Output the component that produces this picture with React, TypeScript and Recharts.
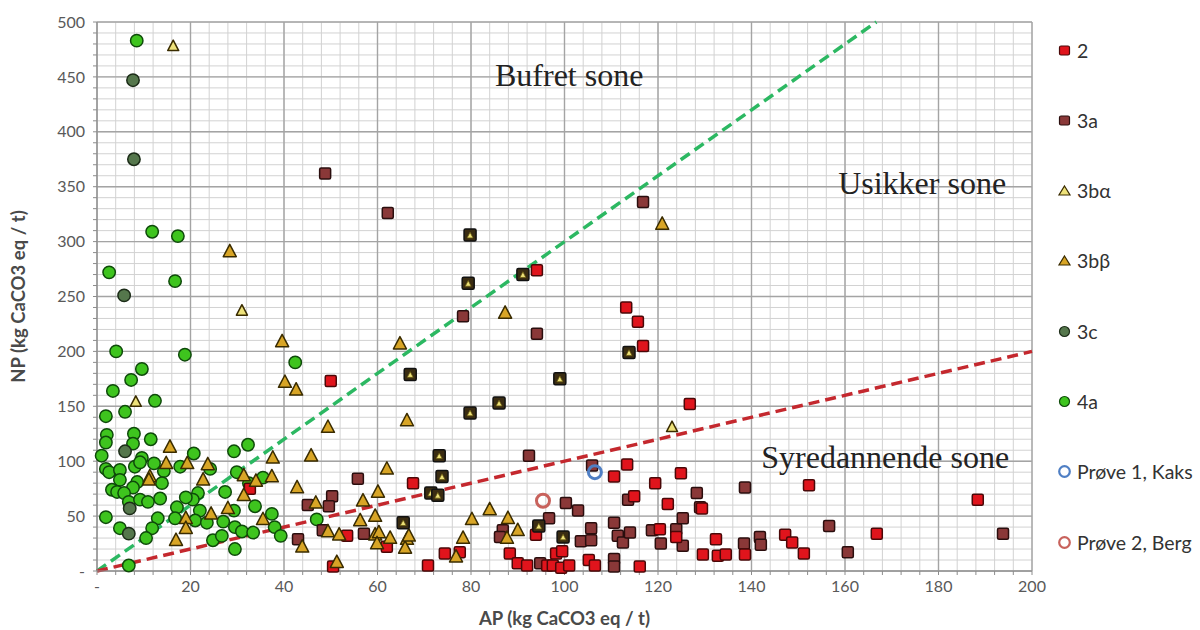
import React from "react";
import {
  ScatterChart,
  Scatter,
  XAxis,
  YAxis,
  CartesianGrid,
  ReferenceLine,
  ReferenceDot,
} from "recharts";

type Pt = [number, number]; // [AP, NP]

// --- data ---
const SERIES_2: Pt[] = [
  [50, 173], [67.6, 80], [53.5, 32], [62, 22], [50.5, 4], [74.4, 16], [77.6, 17], [70.8, 5],
  [88.3, 16], [90, 7], [92, 5], [94.1, 274], [113.2, 240], [115.7, 227], [116.8, 205],
  [126.8, 152], [110.6, 86], [113.4, 97], [119.4, 80], [124.9, 89], [129.4, 57], [114.9, 68],
  [122.1, 61], [93.9, 33], [120.4, 38], [123.9, 31], [132.4, 29], [138.6, 15], [129.6, 15],
  [132.8, 14], [134.5, 15], [96.3, 5], [97.5, 5], [98.2, 16], [99.5, 18], [99.3, 3], [101, 5],
  [105.2, 10], [106.5, 5], [116.1, 4], [152.3, 78], [188.4, 65], [147.2, 33], [148.7, 26],
  [151.2, 16], [166.8, 34], [32.7, 75],
];

const SERIES_3A: Pt[] = [
  [48.8, 362], [62.2, 326], [78.3, 232], [116.8, 336], [94.1, 216], [92.4, 105], [55.8, 84],
  [45.1, 60], [50.3, 68], [49.6, 59], [48.3, 37], [57.1, 34], [43, 29], [86.8, 37], [86.2, 31],
  [105.9, 96], [128.3, 71], [138.6, 76], [100.3, 62], [102.9, 55], [113.6, 65], [96.7, 48],
  [105.7, 39], [103.5, 27], [105.7, 28], [110.6, 44], [111.4, 32], [112.5, 26], [114, 35],
  [118.7, 37], [120.6, 25], [123.9, 38], [125.3, 48], [125.3, 23], [138.4, 25], [94.8, 7],
  [110.6, 11], [110.6, 4], [156.6, 41], [141.8, 31], [142, 24], [160.6, 17], [193.8, 34],
  [129, 58],
];

const SERIES_3B_ALPHA: Pt[] = [[16.3, 478], [123, 131], [31, 237], [8.3, 154]];

// 3bα points drawn inside a dark box
const SERIES_3B_ALPHA_BOXED: Pt[] = [
  [79.8, 306], [91.1, 270], [79.4, 262], [67, 179], [79.8, 144], [86, 153], [73.2, 105],
  [73.8, 86], [71.4, 71], [72.9, 69], [65.5, 44], [113.8, 199], [99, 175], [94.5, 41],
  [99.7, 31],
];

const SERIES_3B_BETA: Pt[] = [
  [28.4, 291], [39.6, 209], [40.2, 172], [15.6, 113], [37.6, 103], [14.8, 98], [19.3, 98],
  [23.7, 97], [31.4, 87], [34, 82], [37.4, 86], [31.4, 69], [11.3, 86], [11.1, 83], [22.7, 83],
  [24.4, 52], [28, 57], [35.5, 47], [19, 48], [19, 39], [16.9, 28], [64.8, 207], [42.6, 165],
  [49.4, 131], [66.3, 137], [87.3, 235], [45.8, 105], [62, 93], [42.8, 76], [60.1, 72],
  [46.8, 62], [56.9, 64], [56.3, 46], [59.5, 50], [84, 56], [80.2, 47], [87.9, 48], [90, 37],
  [49.4, 36], [51.8, 33], [59.5, 33], [60.3, 35], [59.9, 25], [62.7, 30], [66.3, 29],
  [65.9, 21], [66.7, 32], [43.9, 22], [51.3, 8], [78.3, 30], [76.8, 13], [87.7, 30],
  [120.9, 316],
];

const SERIES_3C: Pt[] = [[7.7, 447], [7.9, 375], [5.8, 251], [6, 109], [7, 57], [6.8, 34]];

const SERIES_4A: Pt[] = [
  [8.5, 483], [11.8, 309], [17.3, 305], [2.6, 272], [16.7, 264], [4.1, 200], [18.8, 197],
  [9.6, 184], [7.3, 174], [3.4, 164], [12.4, 155], [6, 145], [1.9, 141], [2.1, 124], [7.9, 125],
  [1.9, 117], [7.7, 116], [11.5, 120], [1, 105], [32.3, 115], [29.3, 109], [20.7, 107],
  [9.6, 103], [1.9, 93], [2.6, 90], [4.9, 92], [8.1, 95], [9.2, 99], [12.2, 98], [14.3, 91],
  [17.8, 95], [24.2, 93], [29.9, 90], [32.5, 80], [35.5, 85], [33.8, 59], [4.9, 83], [8.6, 81],
  [13.9, 80], [7.7, 76], [27.4, 72], [21.6, 71], [20.5, 65], [19, 67], [3.2, 74], [4.3, 72],
  [5.8, 71], [6.8, 63], [9.2, 65], [10.9, 63], [13.5, 66], [17.1, 58], [22, 55], [29.3, 55],
  [37.4, 52], [1.9, 49], [13, 48], [16.7, 48], [21, 46], [23.5, 44], [27, 45], [29.5, 40],
  [38, 40], [4.9, 39], [11.8, 39], [31, 36], [33.4, 35], [10.5, 30], [24.8, 28], [26.7, 32],
  [39.3, 32], [29.5, 20], [6.8, 5], [42.4, 190], [47, 47],
];

const PROVE_1: Pt[] = [[106.5, 90]];
const PROVE_2: Pt[] = [[95.4, 64]];

// zone boundaries NP/AP = 3 and NP/AP = 1
const BUFFER_LINE: Pt[] = [[0, 0], [166.7, 500]];
const ACID_LINE: Pt[] = [[0, 0], [200, 200]];

const X_TICKS = Array.from({ length: 51 }, (_, i) => i * 4);
const Y_TICKS = Array.from({ length: 51 }, (_, i) => i * 10);
const X_MAJOR = [0, 20, 40, 60, 80, 100, 120, 140, 160, 180, 200];
const Y_MAJOR = [0, 50, 100, 150, 200, 250, 300, 350, 400, 450, 500];

const toData = (pts: Pt[]) => pts.map(([ap, np]) => ({ ap, np }));

const C = {
  red: "#e0141c",
  redEdge: "#4a0808",
  brown: "#8a3838",
  brownEdge: "#2a0e0e",
  pale: "#eee27a",
  gold: "#d8a526",
  triEdge: "#3a2c00",
  dark: "#55774c",
  darkEdge: "#1c2c18",
  green: "#3ec41e",
  greenEdge: "#0e4a0a",
  blue: "#4f7fc4",
  pink: "#c8625c",
};

const square = (fill: string, stroke: string, s = 11) => (p: any) => (
  <rect x={p.cx - s / 2} y={p.cy - s / 2} width={s} height={s} rx={1.5} fill={fill} stroke={stroke} strokeWidth={1.5} />
);

const triPoints = (cx: number, cy: number, s: number) =>
  `${cx},${cy - s * 0.55} ${cx + s / 2},${cy + s * 0.4} ${cx - s / 2},${cy + s * 0.4}`;

const triangle = (fill: string, stroke: string, s = 13) => (p: any) => (
  <polygon points={triPoints(p.cx, p.cy, s)} fill={fill} stroke={stroke} strokeWidth={1.5} strokeLinejoin="round" />
);

const circle = (fill: string, stroke: string, r = 6.2) => (p: any) => (
  <circle cx={p.cx} cy={p.cy} r={r} fill={fill} stroke={stroke} strokeWidth={1.5} />
);

const ring = (stroke: string) => (p: any) => (
  <circle cx={p.cx} cy={p.cy} r={6.5} fill="none" stroke={stroke} strokeWidth={3} />
);

const boxed = (p: any) => (
  <g>
    <rect x={p.cx - 6} y={p.cy - 6} width={12} height={12} rx={1.5} fill="#3a2c12" stroke="#111" strokeWidth={1.5} />
    <polygon points={triPoints(p.cx, p.cy + 0.5, 6)} fill={C.pale} stroke="#6a5a10" strokeWidth={0.8} />
  </g>
);

const LEGEND = [
  { name: "2", icon: "square", fill: C.red, stroke: C.redEdge },
  { name: "3a", icon: "square", fill: C.brown, stroke: C.brownEdge },
  { name: "3bα", icon: "triangle", fill: C.pale, stroke: C.triEdge },
  { name: "3bβ", icon: "triangle", fill: C.gold, stroke: C.triEdge },
  { name: "3c", icon: "circle", fill: C.dark, stroke: C.darkEdge },
  { name: "4a", icon: "circle", fill: C.green, stroke: C.greenEdge },
  { name: "Prøve 1, Kaks", icon: "ring", fill: "none", stroke: C.blue },
  { name: "Prøve 2, Berg", icon: "ring", fill: "none", stroke: C.pink },
];

const LegendIcon = ({ icon, fill, stroke }: { icon: string; fill: string; stroke: string }) => (
  <svg width={15} height={15} style={{ marginRight: 5 }}>
    {icon === "square" && <rect x={2.5} y={3} width={10} height={9} rx={1.5} fill={fill} stroke={stroke} strokeWidth={1.2} />}
    {icon === "triangle" && <polygon points="7.5,3 13,12 2,12" fill={fill} stroke={stroke} strokeWidth={1.2} />}
    {icon === "circle" && <circle cx={7.5} cy={7.5} r={5} fill={fill} stroke={stroke} strokeWidth={1.2} />}
    {icon === "ring" && <circle cx={7.5} cy={7.5} r={5.3} fill="none" stroke={stroke} strokeWidth={2.2} />}
  </svg>
);

const zoneText = { fontFamily: "'Liberation Serif', 'Times New Roman', serif", fontSize: 32, fill: "#222" };
const axisText = { fontFamily: "Lato, 'Open Sans', sans-serif", fontSize: 16, fill: "#595959" };
const titleText = { fontFamily: "Lato, 'Open Sans', sans-serif", fontSize: 18.5, fontWeight: 700, fill: "#4a4a4a" };

export default function App() {
  return (
    <div style={{ position: "relative", width: 1200, height: 630, background: "#fff" }}>
      <style>{"body{margin:0}"}</style>
      <ScatterChart width={1200} height={630} margin={{ top: 22, right: 168, bottom: 4, left: 0 }}>
        <CartesianGrid stroke="#d2d2d2" strokeWidth={1} />
        {X_MAJOR.map((v) => (
          <ReferenceLine key={`x${v}`} x={v} stroke="#a4a4a4" strokeWidth={1.4} />
        ))}
        {Y_MAJOR.map((v) => (
          <ReferenceLine key={`y${v}`} y={v} stroke="#a4a4a4" strokeWidth={1.4} />
        ))}
        <XAxis
          type="number"
          dataKey="ap"
          domain={[0, 200]}
          ticks={X_TICKS}
          interval={0}
          height={55}
          tickSize={4}
          tickMargin={6}
          stroke="#8c8c8c"
          tick={axisText}
          tickFormatter={(v: number) => (v % 20 === 0 ? (v === 0 ? "-" : String(v)) : "")}
          label={{ value: "AP (kg CaCO3 eq / t)", position: "insideBottom", offset: 1, style: titleText }}
        />
        <YAxis
          type="number"
          dataKey="np"
          domain={[0, 500]}
          ticks={Y_TICKS}
          interval={0}
          width={97}
          tickSize={4}
          tickMargin={8}
          stroke="#8c8c8c"
          tick={axisText}
          tickFormatter={(v: number) => (v % 50 === 0 ? (v === 0 ? "-" : String(v)) : "")}
          label={{
            value: "NP (kg CaCO3 eq / t)",
            angle: -90,
            position: "insideLeft",
            offset: 18,
            style: { ...titleText, textAnchor: "middle" },
          }}
        />
        <ReferenceLine
          segment={toData(BUFFER_LINE).map((d) => ({ x: d.ap, y: d.np }))}
          stroke="#2cb862"
          strokeWidth={3.5}
          strokeDasharray="11 6"
        />
        <ReferenceLine
          segment={toData(ACID_LINE).map((d) => ({ x: d.ap, y: d.np }))}
          stroke="#c4282e"
          strokeWidth={3.5}
          strokeDasharray="11 6"
        />
        <ReferenceDot x={101} y={452} r={0} ifOverflow="visible" label={{ value: "Bufret sone", position: "center", style: zoneText }} />
        <ReferenceDot x={176.5} y={354} r={0} ifOverflow="visible" label={{ value: "Usikker sone", position: "center", style: zoneText }} />
        <ReferenceDot x={168.6} y={104.5} r={0} ifOverflow="visible" label={{ value: "Syredannende sone", position: "center", style: zoneText }} />

        <Scatter name="4a" data={toData(SERIES_4A)} shape={circle(C.green, C.greenEdge)} isAnimationActive={false} />
        <Scatter name="3c" data={toData(SERIES_3C)} shape={circle(C.dark, C.darkEdge)} isAnimationActive={false} />
        <Scatter name="3a" data={toData(SERIES_3A)} shape={square(C.brown, C.brownEdge)} isAnimationActive={false} />
        <Scatter name="2" data={toData(SERIES_2)} shape={square(C.red, C.redEdge)} isAnimationActive={false} />
        <Scatter name="3bβ" data={toData(SERIES_3B_BETA)} shape={triangle(C.gold, C.triEdge)} isAnimationActive={false} />
        <Scatter name="3bα boks" data={toData(SERIES_3B_ALPHA_BOXED)} shape={boxed} legendType="none" isAnimationActive={false} />
        <Scatter name="3bα" data={toData(SERIES_3B_ALPHA)} shape={triangle(C.pale, C.triEdge, 11)} isAnimationActive={false} />
        <Scatter name="Prøve 1, Kaks" data={toData(PROVE_1)} shape={ring(C.blue)} isAnimationActive={false} />
        <Scatter name="Prøve 2, Berg" data={toData(PROVE_2)} shape={ring(C.pink)} isAnimationActive={false} />
      </ScatterChart>

      <div style={{ position: "absolute", left: 1057, top: 37, fontFamily: "Lato, 'Open Sans', sans-serif", fontSize: 19.5, color: "#333" }}>
        {LEGEND.map((item) => (
          <div key={item.name} style={{ display: "flex", alignItems: "center", height: 26, marginBottom: 44.3, whiteSpace: "nowrap" }}>
            <LegendIcon icon={item.icon} fill={item.fill} stroke={item.stroke} />
            {item.name}
          </div>
        ))}
      </div>
    </div>
  );
}
